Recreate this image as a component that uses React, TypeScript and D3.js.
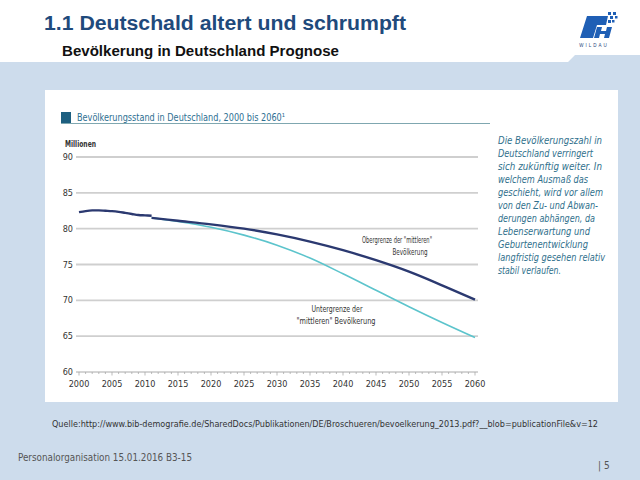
import React, { useEffect } from "react";
import * as d3 from "d3";

const histYears = [2000, 2001, 2002, 2003, 2004, 2005, 2006, 2007, 2008, 2009, 2010, 2011];
const histValues = [82.3, 82.45, 82.55, 82.55, 82.5, 82.45, 82.35, 82.2, 82.05, 81.9, 81.85, 81.8];
const projYears = [2011, 2015, 2020, 2025, 2030, 2035, 2040, 2045, 2050, 2055, 2060];
const upperValues = [81.5, 81.1, 80.6, 80.0, 79.2, 78.2, 77.0, 75.6, 74.0, 72.1, 70.1];
const lowerValues = [81.5, 81.0, 80.2, 79.1, 77.7, 75.9, 73.7, 71.4, 69.1, 66.9, 64.8];
const yTicks = [60, 65, 70, 75, 80, 85, 90];
const xTicks = [2000, 2005, 2010, 2015, 2020, 2025, 2030, 2035, 2040, 2045, 2050, 2055, 2060];
const noteLines = [
  "Die Bevölkerungszahl in",
  "Deutschland verringert",
  "sich zukünftig weiter. In",
  "welchem Ausmaß das",
  "geschieht, wird vor allem",
  "von den Zu- und Abwan-",
  "derungen abhängen, da",
  "Lebenserwartung und",
  "Geburtenentwicklung",
  "langfristig gesehen relativ",
  "stabil verlaufen.",
];
const noteWidths = [104, 95, 104, 90, 105, 100, 97, 92, 90, 107, 63];

export default function App() {
  useEffect(() => {
    document.body.style.margin = "0";
  }, []);

  const x = d3.scaleLinear().domain([2000, 2060]).range([79, 475]);
  const y = d3.scaleLinear().domain([60, 90]).range([372, 157]);
  const line = d3
    .line<[number, number]>()
    .x((d) => x(d[0]))
    .y((d) => y(d[1]))
    .curve(d3.curveCatmullRom.alpha(0.5));

  const hist = histYears.map((yr, i) => [yr, histValues[i]] as [number, number]);
  const upper = projYears.map((yr, i) => [yr, upperValues[i]] as [number, number]);
  const lower = projYears.map((yr, i) => [yr, lowerValues[i]] as [number, number]);
  const minorTicks = d3.range(2000, 2061, 1);

  const chartFont = "'DejaVu Sans Condensed', 'Open Sans', sans-serif";

  return (
    <svg width={640} height={480} style={{ display: "block" }} fontFamily="'Liberation Sans', Arial, sans-serif">
      <rect x={0} y={0} width={640} height={480} fill="#ffffff" />
      {/* blue background band */}
      <path d="M0,62 L568,62 L575,55 L640,55 L640,480 L0,480 Z" fill="#cddcec" />
      {/* titles */}
      <text x={44} y={30} fontSize={20} fontWeight="bold" fill="#1f4a7c" textLength={362} lengthAdjust="spacingAndGlyphs">
        1.1 Deutschald altert und schrumpft
      </text>
      <text x={62} y={56} fontSize={14.5} fontWeight="bold" fill="#111" textLength={277} lengthAdjust="spacingAndGlyphs">
        Bevölkerung in Deutschland Prognose
      </text>
      {/* logo */}
      <g fill="#1f5fb5">
        <path d="M580,38 L587,16 L608,16 L606,25 L597,25 L593,38 Z" />
        <path d="M597,27 L602,27 L601,31 L606,31 L607,27 L612,27 L609,38 L604,38 L605,34 L600,34 L599,38 L594,38 Z" />
        <rect x={608} y={12} width={3} height={3} />
        <rect x={613} y={12} width={3} height={3} />
        <rect x={610} y={16} width={3} height={3} />
        <rect x={615} y={16} width={2.5} height={2.5} />
        <rect x={608} y={20} width={3} height={3} />
        <rect x={612} y={20} width={2.5} height={2.5} />
      </g>
      <text x={594} y={47} fontSize={4.5} fill="#1f3f7a" textAnchor="middle" letterSpacing={2}>
        WILDAU
      </text>
      {/* white panel */}
      <rect x={45} y={90} width={573} height={312} fill="#ffffff" />
      {/* chart title */}
      <rect x={61} y={112} width={10} height={11} fill="#1d5f80" />
      <line x1={61} x2={490} y1={123.5} y2={123.5} stroke="#7fa7b0" strokeWidth={1.2} />
      <text x={77} y={121} fontSize={11} fill="#2e6f92" fontFamily={chartFont} textLength={208} lengthAdjust="spacingAndGlyphs">
        Bevölkerungsstand in Deutschland, 2000 bis 2060¹
      </text>
      <text x={65} y={147} fontSize={8} fill="#333" fontFamily={chartFont} fontWeight="bold" textLength={31} lengthAdjust="spacingAndGlyphs">
        Millionen
      </text>
      {/* grid */}
      {yTicks.map((t) => (
        <g key={t}>
          {t !== 60 && <line x1={76} x2={478} y1={y(t)} y2={y(t)} stroke="#cfcfcf" strokeWidth={1.8} />}
          <text x={73} y={y(t) + 3} fontSize={9} fill="#333" textAnchor="end" fontFamily={chartFont}>
            {t}
          </text>
        </g>
      ))}
      {/* x axis */}
      <line x1={76} x2={478} y1={y(60)} y2={y(60)} stroke="#aaa" strokeWidth={1} />
      {minorTicks.map((t) => (
        <line key={t} x1={x(t)} x2={x(t)} y1={y(60)} y2={y(60) + (t % 5 === 0 ? 3.5 : 2)} stroke="#aaa" strokeWidth={0.8} />
      ))}
      {xTicks.map((t) => (
        <text key={t} x={x(t)} y={y(60) + 15} fontSize={9} fill="#333" textAnchor="middle" fontFamily={chartFont}>
          {t}
        </text>
      ))}
      {/* lines */}
      <path d={line(lower) || ""} fill="none" stroke="#5cc4cc" strokeWidth={1.6} />
      <path d={line(upper) || ""} fill="none" stroke="#2b3970" strokeWidth={2.4} />
      <path d={line(hist) || ""} fill="none" stroke="#2b3970" strokeWidth={2.4} />
      {/* annotations */}
      <g fontSize={8.5} fill="#333" fontFamily={chartFont} textAnchor="middle">
        <text x={397} y={243} textLength={70} lengthAdjust="spacingAndGlyphs">Obergrenze der "mittleren"</text>
        <text x={410} y={255} textLength={35} lengthAdjust="spacingAndGlyphs">Bevölkerung</text>
        <text x={337} y={312} textLength={51} lengthAdjust="spacingAndGlyphs">Untergrenze der</text>
        <text x={336} y={324} textLength={79} lengthAdjust="spacingAndGlyphs">"mittleren" Bevölkerung</text>
      </g>
      {/* note */}
      <g fontSize={10.5} fill="#2f6f8c" fontStyle="italic" fontFamily={chartFont}>
        {noteLines.map((l, i) => (
          <text key={i} x={498} y={144 + i * 13} textLength={noteWidths[i]} lengthAdjust="spacingAndGlyphs">
            {l}
          </text>
        ))}
      </g>
      {/* source */}
      <text x={52} y={427} fontSize={9} fill="#333" fontFamily={chartFont} textLength={546} lengthAdjust="spacingAndGlyphs">
        Quelle:http://www.bib-demografie.de/SharedDocs/Publikationen/DE/Broschueren/bevoelkerung_2013.pdf?__blob=publicationFile&amp;v=12
      </text>
      {/* footer */}
      <text x={18} y={461} fontSize={10} fill="#555" fontFamily={chartFont} textLength={174} lengthAdjust="spacingAndGlyphs">
        Personalorganisation 15.01.2016 B3-15
      </text>
      <text x={598} y={469} fontSize={10} fill="#555" fontFamily={chartFont}>
        | 5
      </text>
    </svg>
  );
}
